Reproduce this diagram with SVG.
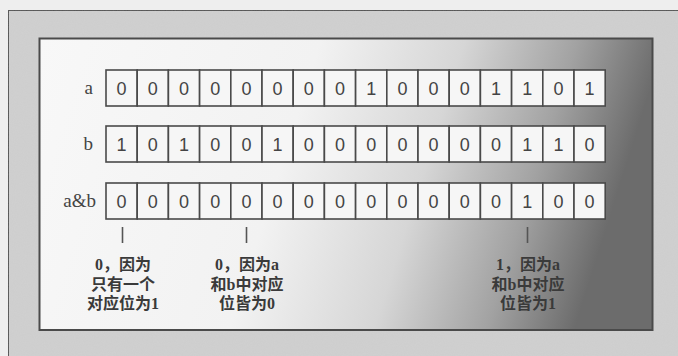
<svg xmlns="http://www.w3.org/2000/svg" width="678" height="356" viewBox="0 0 678 356">
<style>
.cell{fill:#f6f6f6;stroke:#4a4a4a;stroke-width:1.6}
.dig{font-family:"Liberation Sans",Arial,sans-serif;font-size:18px;fill:#444;text-anchor:middle}
.lbl{font-family:"Liberation Serif","Times New Roman",serif;font-size:19px;fill:#444;text-anchor:end}
.note{font-family:"Liberation Serif","Noto Sans CJK SC",serif;font-size:16px;font-weight:bold;fill:#3a3a3a;text-anchor:middle}
.tick{stroke:#555;stroke-width:1.6}
</style>
<defs>
<linearGradient id="innerGrad" x1="0" y1="0" x2="1" y2="0.15">
<stop offset="0" stop-color="#f8f8f8"/>
<stop offset="0.45" stop-color="#f2f2f2"/>
<stop offset="0.68" stop-color="#d6d6d6"/>
<stop offset="0.86" stop-color="#a2a2a2"/>
<stop offset="1" stop-color="#6c6c6c"/>
</linearGradient>
<filter id="grain" x="0" y="0" width="1" height="1">
<feTurbulence type="fractalNoise" baseFrequency="0.9" numOctaves="2" seed="3" result="n"/>
<feColorMatrix type="matrix" values="0 0 0 0 0.5  0 0 0 0 0.5  0 0 0 0 0.5  0 0 0 0.12 0" in="n" result="g"/>
<feComposite in="g" in2="SourceGraphic" operator="atop"/>
</filter>
</defs>
<rect x="0" y="0" width="678" height="356" fill="#eeeeee"/>
<rect id="outer-frame" x="8" y="10" width="680" height="360" fill="#d0d0d0" stroke="#505050" stroke-width="2" filter="url(#grain)"/>
<rect id="inner-box" x="39.5" y="38.5" width="613" height="291.5" fill="url(#innerGrad)" stroke="#4a4a4a" stroke-width="2"/>

<g id="row-a">
<text class="lbl" x="93" y="94">a</text>
<rect class="cell" x="106" y="70" width="31.2" height="36"/>
<rect class="cell" x="137.2" y="70" width="31.2" height="36"/>
<rect class="cell" x="168.4" y="70" width="31.2" height="36"/>
<rect class="cell" x="199.6" y="70" width="31.2" height="36"/>
<rect class="cell" x="230.8" y="70" width="31.2" height="36"/>
<rect class="cell" x="262" y="70" width="31.2" height="36"/>
<rect class="cell" x="293.2" y="70" width="31.2" height="36"/>
<rect class="cell" x="324.4" y="70" width="31.2" height="36"/>
<rect class="cell" x="355.6" y="70" width="31.2" height="36"/>
<rect class="cell" x="386.8" y="70" width="31.2" height="36"/>
<rect class="cell" x="418" y="70" width="31.2" height="36"/>
<rect class="cell" x="449.2" y="70" width="31.2" height="36"/>
<rect class="cell" x="480.4" y="70" width="31.2" height="36"/>
<rect class="cell" x="511.6" y="70" width="31.2" height="36"/>
<rect class="cell" x="542.8" y="70" width="31.2" height="36"/>
<rect class="cell" x="574" y="70" width="31.2" height="36"/>
<text class="dig" x="121.6" y="95">0</text>
<text class="dig" x="152.8" y="95">0</text>
<text class="dig" x="184" y="95">0</text>
<text class="dig" x="215.2" y="95">0</text>
<text class="dig" x="246.4" y="95">0</text>
<text class="dig" x="277.6" y="95">0</text>
<text class="dig" x="308.8" y="95">0</text>
<text class="dig" x="340" y="95">0</text>
<text class="dig" x="371.2" y="95">1</text>
<text class="dig" x="402.4" y="95">0</text>
<text class="dig" x="433.6" y="95">0</text>
<text class="dig" x="464.8" y="95">0</text>
<text class="dig" x="496" y="95">1</text>
<text class="dig" x="527.2" y="95">1</text>
<text class="dig" x="558.4" y="95">0</text>
<text class="dig" x="589.6" y="95">1</text>
</g>

<g id="row-b">
<text class="lbl" x="93" y="150">b</text>
<rect class="cell" x="106" y="126" width="31.2" height="36"/>
<rect class="cell" x="137.2" y="126" width="31.2" height="36"/>
<rect class="cell" x="168.4" y="126" width="31.2" height="36"/>
<rect class="cell" x="199.6" y="126" width="31.2" height="36"/>
<rect class="cell" x="230.8" y="126" width="31.2" height="36"/>
<rect class="cell" x="262" y="126" width="31.2" height="36"/>
<rect class="cell" x="293.2" y="126" width="31.2" height="36"/>
<rect class="cell" x="324.4" y="126" width="31.2" height="36"/>
<rect class="cell" x="355.6" y="126" width="31.2" height="36"/>
<rect class="cell" x="386.8" y="126" width="31.2" height="36"/>
<rect class="cell" x="418" y="126" width="31.2" height="36"/>
<rect class="cell" x="449.2" y="126" width="31.2" height="36"/>
<rect class="cell" x="480.4" y="126" width="31.2" height="36"/>
<rect class="cell" x="511.6" y="126" width="31.2" height="36"/>
<rect class="cell" x="542.8" y="126" width="31.2" height="36"/>
<rect class="cell" x="574" y="126" width="31.2" height="36"/>
<text class="dig" x="121.6" y="151">1</text>
<text class="dig" x="152.8" y="151">0</text>
<text class="dig" x="184" y="151">1</text>
<text class="dig" x="215.2" y="151">0</text>
<text class="dig" x="246.4" y="151">0</text>
<text class="dig" x="277.6" y="151">1</text>
<text class="dig" x="308.8" y="151">0</text>
<text class="dig" x="340" y="151">0</text>
<text class="dig" x="371.2" y="151">0</text>
<text class="dig" x="402.4" y="151">0</text>
<text class="dig" x="433.6" y="151">0</text>
<text class="dig" x="464.8" y="151">0</text>
<text class="dig" x="496" y="151">0</text>
<text class="dig" x="527.2" y="151">1</text>
<text class="dig" x="558.4" y="151">1</text>
<text class="dig" x="589.6" y="151">0</text>
</g>

<g id="row-ab">
<text class="lbl" x="96" y="207">a&amp;b</text>
<rect class="cell" x="106" y="183" width="31.2" height="36"/>
<rect class="cell" x="137.2" y="183" width="31.2" height="36"/>
<rect class="cell" x="168.4" y="183" width="31.2" height="36"/>
<rect class="cell" x="199.6" y="183" width="31.2" height="36"/>
<rect class="cell" x="230.8" y="183" width="31.2" height="36"/>
<rect class="cell" x="262" y="183" width="31.2" height="36"/>
<rect class="cell" x="293.2" y="183" width="31.2" height="36"/>
<rect class="cell" x="324.4" y="183" width="31.2" height="36"/>
<rect class="cell" x="355.6" y="183" width="31.2" height="36"/>
<rect class="cell" x="386.8" y="183" width="31.2" height="36"/>
<rect class="cell" x="418" y="183" width="31.2" height="36"/>
<rect class="cell" x="449.2" y="183" width="31.2" height="36"/>
<rect class="cell" x="480.4" y="183" width="31.2" height="36"/>
<rect class="cell" x="511.6" y="183" width="31.2" height="36"/>
<rect class="cell" x="542.8" y="183" width="31.2" height="36"/>
<rect class="cell" x="574" y="183" width="31.2" height="36"/>
<text class="dig" x="121.6" y="208">0</text>
<text class="dig" x="152.8" y="208">0</text>
<text class="dig" x="184" y="208">0</text>
<text class="dig" x="215.2" y="208">0</text>
<text class="dig" x="246.4" y="208">0</text>
<text class="dig" x="277.6" y="208">0</text>
<text class="dig" x="308.8" y="208">0</text>
<text class="dig" x="340" y="208">0</text>
<text class="dig" x="371.2" y="208">0</text>
<text class="dig" x="402.4" y="208">0</text>
<text class="dig" x="433.6" y="208">0</text>
<text class="dig" x="464.8" y="208">0</text>
<text class="dig" x="496" y="208">0</text>
<text class="dig" x="527.2" y="208">1</text>
<text class="dig" x="558.4" y="208">0</text>
<text class="dig" x="589.6" y="208">0</text>
</g>

<g id="connectors">
<line class="tick" x1="122.5" y1="227" x2="122.5" y2="243"/>
<line class="tick" x1="246.5" y1="227" x2="246.5" y2="243"/>
<line class="tick" x1="527.5" y1="227" x2="527.5" y2="243"/>
</g>

<g id="note-1">
<text class="note" x="123" y="270">0，因为</text>
<text class="note" x="123" y="290">只有一个</text>
<text class="note" x="123" y="309">对应位为1</text>
</g>
<g id="note-2">
<text class="note" x="247" y="270">0，因为a</text>
<text class="note" x="247" y="290">和b中对应</text>
<text class="note" x="247" y="309">位皆为0</text>
</g>
<g id="note-3">
<text class="note" x="528" y="270">1，因为a</text>
<text class="note" x="528" y="290">和b中对应</text>
<text class="note" x="528" y="309">位皆为1</text>
</g>
</svg>
